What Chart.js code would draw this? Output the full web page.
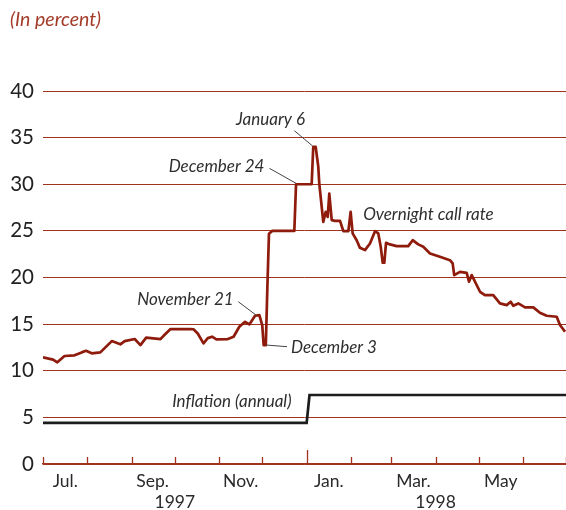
<!DOCTYPE html>
<html><head><meta charset="utf-8">
<script src="https://cdn.jsdelivr.net/npm/chart.js@4"></script>
<style>html,body{margin:0;padding:0;background:#fff}</style>
</head><body>
<canvas id="c" width="566" height="510"></canvas>
<script>
// x values are days since 1 July 1997
const monthStarts = [0,31,62,92,123,153,184,215,243,274,304,335,365];
const yearStartDay = 184;
const monthLabels = ['Jul.','Sep.','Nov.','Jan.','Mar.','May'];
const monthLabelDays = [15.5,76.5,138,199.5,258.5,319.5];
const yearLabels = ['1997','1998'];
const yearLabelDays = [92,274];
const yTicks = [0,5,10,15,20,25,30,35,40];

const callDays = [0,7,10,15,22,27,30,34,40,48,
  54,57,64,68,72,82,84,89,96,103,
  105,108,112,115,118,121,129,133,137,141,
  144,148,151,153,154,155.5,156.6,157.7,160,175.4,
  176.6,187.5,188.6,190.3,192.1,192.8,195.6,197.3,198.7,199.8,
  201.5,203.8,207.3,209.6,213.1,214.7,216.1,218.9,221.2,224.7,
  228.2,231.7,234,235.7,237.1,238.2,239.4,242.1,246.8,251.4,
  254.9,258,261.9,265.4,270.1,277,284,285.9,287,291,
  295.7,297.3,299.2,305,308.4,314.2,318.9,323.6,326.4,328.2,
  331.7,336.4,342.2,346.8,351.5,358.5,360.8,364.3];
const callRate = [11.44,11.2,10.9,11.58,11.65,11.97,12.14,11.87,11.97,13.18,
  12.83,13.18,13.4,12.75,13.55,13.4,13.72,14.47,14.47,14.47,
  14.45,14.0,12.94,13.5,13.65,13.37,13.4,13.65,14.72,15.25,
  14.97,15.9,15.97,14.9,12.75,12.75,19.0,24.7,25.0,25.0,
  30.0,30.0,34.0,34.0,31.9,30.1,25.97,27.04,26.5,29.0,
  26.15,26.08,26.08,24.97,24.97,27.04,24.73,24.0,23.18,22.94,
  23.65,24.97,24.73,23.29,21.58,21.58,23.72,23.55,23.37,23.37,
  23.37,24.0,23.55,23.29,22.58,22.22,21.86,21.51,20.26,20.61,
  20.5,19.54,20.26,18.47,18.11,18.11,17.22,17.04,17.4,16.97,
  17.22,16.8,16.8,16.22,15.9,15.79,14.9,14.18];

const inflDays = [0,184,186,365];
const inflation = [4.4,4.4,7.4,7.4];

const notes = [
  {text:'January 6', at:[158.8,36.9], align:'center', from:[175.4,35.74], to:[188.2,34.1]},
  {text:'December 24', at:[121.1,31.88], align:'center', from:[158.0,31.71], to:[176.6,30.1]},
  {text:'November 21', at:[99.4,17.69], align:'center', from:[136.3,17.4], to:[148.6,15.98]},
  {text:'December 3', at:[173.1,12.44], align:'left', from:[155.6,12.76], to:[170.3,12.58]},
  {text:'Overnight call rate', at:[269,26.78], align:'center'},
  {text:'Inflation (annual)', at:[131.8,6.68], align:'center'}
];

const BROWN = '#a0321e';
const FONT = 'Lato';

const decor = {
  id:'decor',
  afterDatasetsDraw(chart){
    const ctx = chart.ctx, xs = chart.scales.x, ys = chart.scales.y;
    const base = chart.chartArea.bottom;
    ctx.save();
    // month tick marks (upward)
    ctx.strokeStyle = BROWN; ctx.lineWidth = 1.3;
    monthStarts.forEach(d => {
      const px = Math.round(xs.getPixelForValue(d)) + 0.5;
      const len = d === yearStartDay ? 14 : 7;
      ctx.beginPath(); ctx.moveTo(px, base); ctx.lineTo(px, base - len); ctx.stroke();
    });
    // annotations
    ctx.fillStyle = '#2e2e2e';
    ctx.font = 'italic 17px ' + FONT;
    ctx.textBaseline = 'middle';
    notes.forEach(n => {
      ctx.textAlign = n.align;
      ctx.fillText(n.text, xs.getPixelForValue(n.at[0]), ys.getPixelForValue(n.at[1]));
      if (n.from) {
        ctx.strokeStyle = '#444'; ctx.lineWidth = 1;
        ctx.beginPath();
        ctx.moveTo(xs.getPixelForValue(n.from[0]), ys.getPixelForValue(n.from[1]));
        ctx.lineTo(xs.getPixelForValue(n.to[0]), ys.getPixelForValue(n.to[1]));
        ctx.stroke();
      }
    });
    // unit label
    ctx.fillStyle = '#a33b28';
    ctx.font = 'italic 19.5px ' + FONT;
    ctx.textAlign = 'left'; ctx.textBaseline = 'alphabetic';
    ctx.fillText('(In percent)', 10, 26);
    ctx.restore();
  }
};

new Chart(document.getElementById('c'), {
  type:'line',
  data:{datasets:[
    {label:'Overnight call rate', data: callDays.map((d,i)=>({x:d,y:callRate[i]})),
     borderColor:'#8e1b0b', borderWidth:2.7, pointRadius:0, tension:0, borderJoinStyle:'round'},
    {label:'Inflation (annual)', data: inflDays.map((d,i)=>({x:d,y:inflation[i]})),
     borderColor:'#1c1c1c', borderWidth:2.7, pointRadius:0, tension:0}
  ]},
  options:{
    responsive:false, animation:false, devicePixelRatio:1,
    layout:{padding:{top:91,left:0,right:0,bottom:0}},
    plugins:{legend:{display:false}, tooltip:{enabled:false}, title:{display:false}},
    scales:{
      x:{type:'linear', position:'bottom', min:0, max:365,
        afterBuildTicks:s=>{ s.ticks = monthLabelDays.map(v=>({value:v})); },
        afterFit:s=>{ s.height = 27; },
        ticks:{autoSkip:false, maxRotation:0, padding:7, color:'#2a2a2a',
          font:{family:FONT, size:17.5}, callback:(v,i)=>monthLabels[i]},
        grid:{display:false, drawTicks:false},
        border:{display:true, color:BROWN, width:1.5}},
      xYear:{type:'linear', position:'bottom', min:0, max:365,
        afterBuildTicks:s=>{ s.ticks = yearLabelDays.map(v=>({value:v})); },
        afterFit:s=>{ s.height = 19; },
        ticks:{autoSkip:false, maxRotation:0, padding:1, color:'#2a2a2a',
          font:{family:FONT, size:17.5}, callback:(v,i)=>yearLabels[i]},
        grid:{display:false, drawTicks:false}, border:{display:false}},
      y:{min:0, max:40,
        afterBuildTicks:s=>{ s.ticks = yTicks.map(v=>({value:v})); },
        afterFit:s=>{ s.width = 43; },
        ticks:{padding:9, color:'#222', font:{family:FONT, size:20.5}},
        grid:{color:BROWN, lineWidth:1, drawTicks:false},
        border:{display:false}}
    }
  },
  plugins:[decor]
});
</script>
</body></html>
